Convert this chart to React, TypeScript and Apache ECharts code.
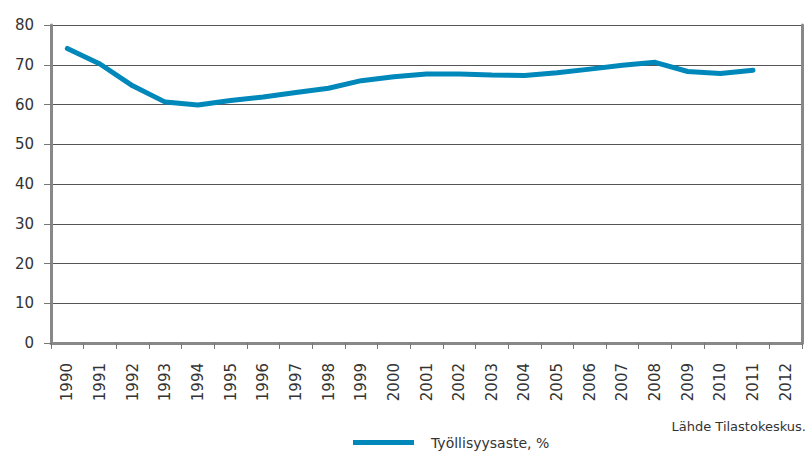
import React, { useEffect, useRef } from "react";
import * as echarts from "echarts";

const years = ["1990","1991","1992","1993","1994","1995","1996","1997","1998","1999","2000","2001","2002","2003","2004","2005","2006","2007","2008","2009","2010","2011","2012"];
const employmentRate: (number | null)[] = [74.1,70.2,64.7,60.6,59.9,61.0,61.9,63.0,64.1,66.0,67.0,67.7,67.7,67.4,67.3,68.0,68.9,69.9,70.6,68.3,67.8,68.6,null];
const seriesName = "Työllisyysaste, %";
const sourceText = "Lähde Tilastokeskus.";

export default function App() {
  const ref = useRef<HTMLDivElement>(null);
  useEffect(() => {
    if (!ref.current) return;
    const chart = echarts.init(ref.current, undefined, { renderer: "svg" });
    const font = "DejaVu Sans";
    chart.setOption({
      animation: false,
      grid: { left: 51, right: 5, top: 25, bottom: 110 },
      legend: {
        data: [{ name: seriesName, icon: "rect" }],
        left: 353,
        top: 434,
        padding: 0,
        itemWidth: 61,
        itemHeight: 5,
        itemGap: 10,
        textStyle: { fontFamily: font, fontSize: 14, lineHeight: 17, color: "#333", padding: [0, 0, 0, 12] },
      },
      xAxis: {
        type: "category",
        data: years,
        boundaryGap: true,
        axisLine: { lineStyle: { color: "#888", width: 3 } },
        axisTick: { show: true, length: 6, lineStyle: { color: "#777", width: 1 } },
        axisLabel: { rotate: 90, fontFamily: font, fontSize: 15, color: "#333", margin: 20, interval: 0 },
        splitLine: { show: false },
      },
      yAxis: [
        {
          type: "value",
          min: 0,
          max: 80,
          interval: 10,
          axisLine: { show: true, lineStyle: { color: "#888", width: 3 } },
          axisTick: { show: true, length: 7, lineStyle: { color: "#777", width: 1 } },
          axisLabel: { fontFamily: font, fontSize: 15, color: "#333", margin: 17 },
          splitLine: { show: true, lineStyle: { color: "#555", width: 1 } },
        },
        {
          type: "value",
          position: "right",
          min: 0,
          max: 80,
          interval: 10,
          axisLine: { show: true, lineStyle: { color: "#888", width: 3 } },
          axisTick: { show: false },
          axisLabel: { show: false },
          splitLine: { show: false },
        },
      ],
      series: [
        {
          name: seriesName,
          type: "line",
          data: employmentRate,
          showSymbol: false,
          symbol: "none",
          itemStyle: { color: "#0088bb" },
          lineStyle: { color: "#0088bb", width: 5, join: "round", cap: "round" },
        },
      ],
      graphic: [
        {
          type: "text",
          right: 1,
          top: 420,
          style: { text: sourceText, fontFamily: font, fontSize: 13, fill: "#333" },
        },
      ],
    });
    return () => chart.dispose();
  }, []);
  return <div ref={ref} style={{ width: 807, height: 453, position: "absolute", left: 0, top: 0 }} />;
}
